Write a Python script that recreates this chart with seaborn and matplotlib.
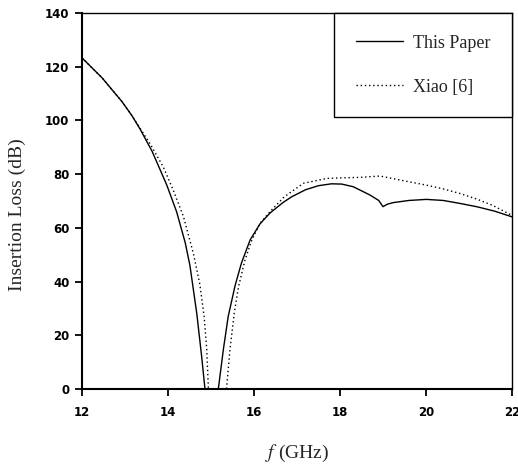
import matplotlib
matplotlib.use("Agg")
import matplotlib.pyplot as plt
import seaborn as sns

# ---- data ----
paper_f = [12.0, 12.47, 12.93, 13.16, 13.35, 13.63, 13.97, 14.2, 14.4, 14.51, 14.67, 14.78, 14.86,
           15.17, 15.29, 15.4, 15.56, 15.71, 15.91, 16.14, 16.37, 16.68, 16.88, 17.2,
           17.5, 17.8, 18.04, 18.31, 18.7, 18.9, 19.0, 19.1, 19.24, 19.6, 20.01, 20.4,
           20.79, 21.2, 21.6, 22.0]
paper_il = [123.3, 115.8, 107.0, 101.8, 96.8, 88.5, 76.0, 66.0, 54.5, 46.0, 28.0, 12.5, 0.0,
            0.0, 15.0, 27.0, 38.5, 47.0, 55.5, 61.5, 65.5, 69.5, 71.6, 74.2,
            75.7, 76.4, 76.3, 75.3, 72.2, 70.2, 67.9, 68.8, 69.4, 70.2, 70.6, 70.2,
            69.1, 67.8, 66.2, 64.1]

xiao_f = [12.0, 12.47, 12.93, 13.16, 13.58, 13.89, 14.12, 14.36, 14.59, 14.74, 14.84, 14.9,
          14.94, 15.36, 15.44, 15.54, 15.64, 15.79, 15.95, 16.14, 16.4, 16.7, 17.15, 17.69,
          18.0, 18.47, 18.93, 19.4, 20.01, 20.4, 20.79, 21.2, 21.56, 21.99]
xiao_il = [123.3, 115.8, 107.0, 101.8, 91.4, 82.7, 74.1, 64.2, 50.5, 39.0, 27.0, 15.0,
           0.0, 0.0, 14.5, 28.2, 38.1, 48.0, 55.5, 61.7, 66.5, 71.5, 76.6, 78.4,
           78.6, 78.8, 79.3, 77.8, 75.9, 74.5, 72.8, 70.6, 68.3, 64.7]

series_names = ["This Paper", "Xiao [6]"]
x_ticks = [12, 14, 16, 18, 20, 22]
y_ticks = [0, 20, 40, 60, 80, 100, 120, 140]

sns.set_theme(style="white")
plt.rcParams["font.family"] = ["DejaVu Sans"]
plt.rcParams["mathtext.fontset"] = "stix"

fig = plt.figure(figsize=(5.18, 4.67), dpi=100)
ax = fig.add_axes([82 / 518, 1 - 389 / 467, 430 / 518, 376 / 467])

sns.lineplot(x=paper_f, y=paper_il, ax=ax, color="black", linewidth=1.0,
             label=series_names[0])
sns.lineplot(x=xiao_f, y=xiao_il, ax=ax, color="black", linewidth=1.0,
             linestyle=(0, (1, 2)), label=series_names[1])

ax.set_xlim(12, 22)
ax.set_ylim(0, 140)
ax.set_xticks(x_ticks)
ax.set_yticks(y_ticks)
ax.set_xticklabels([str(t) for t in x_ticks], fontsize=8.5, fontweight="bold")
ax.set_yticklabels([str(t) for t in y_ticks], fontsize=8.5, fontweight="bold")
ax.tick_params(axis="both", which="major", direction="out", length=5, width=1.3,
               bottom=True, left=True, top=False, right=False, colors="black", pad=4)
ax.tick_params(axis="x", pad=7)

for s in ax.spines.values():
    s.set_visible(True)
    s.set_color("black")
    s.set_linewidth(1.0)
ax.spines["left"].set_linewidth(1.5)
ax.spines["bottom"].set_linewidth(1.5)

ax.set_xlabel("")
ax.set_ylabel("")
fig.text(297 / 518, 1 - 453 / 467, r"$f$ (GHz)", ha="center", va="center",
         fontsize=14, family="Liberation Serif")
fig.text(17 / 518, 1 - 215 / 467, "Insertion Loss (dB)", ha="center", va="center",
         rotation=90, fontsize=14, family="Liberation Serif")

leg = ax.legend(loc="upper right", bbox_to_anchor=(1, 1), borderaxespad=0,
                frameon=True, fancybox=False, edgecolor="black", framealpha=1,
                prop={"family": "Liberation Serif", "size": 13},
                handlelength=2.6, handletextpad=0.55, labelspacing=1.5,
                borderpad=1.2)
leg.get_frame().set_linewidth(1.0)

fig.savefig("out.png", dpi=100)
